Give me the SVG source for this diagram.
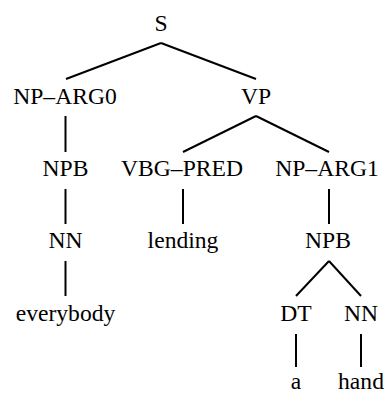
<svg xmlns="http://www.w3.org/2000/svg" width="384" height="394" viewBox="0 0 384 394">
<style>
#edges line{stroke:#000;stroke-width:2;stroke-linecap:butt}
</style>
<rect width="384" height="394" fill="#fff"/>
<g id="edges">
<line x1="161" y1="43" x2="66" y2="79"/>
<line x1="161" y1="43" x2="256" y2="79"/>
<line x1="65.5" y1="116" x2="65.5" y2="152"/>
<line x1="256" y1="116" x2="183" y2="152"/>
<line x1="256" y1="116" x2="329" y2="152"/>
<line x1="65.5" y1="189" x2="65.5" y2="224"/>
<line x1="183" y1="189" x2="183" y2="224"/>
<line x1="329" y1="189" x2="329" y2="224"/>
<line x1="65.5" y1="261" x2="65.5" y2="296"/>
<line x1="329" y1="261" x2="296" y2="296"/>
<line x1="329" y1="261" x2="361" y2="296"/>
<line x1="296" y1="334" x2="296" y2="367"/>
<line x1="361" y1="334" x2="361" y2="367"/>
</g>
<g font-family="Liberation Serif, serif" font-size="23.6" fill="#000" text-anchor="middle">
<g id="n-S"><text x="161" y="31">S</text></g>
<g id="n-NP-ARG0"><text x="65" y="104">NP–ARG0</text></g>
<g id="n-VP"><text x="256" y="104">VP</text></g>
<g id="n-NPB1"><text x="65.5" y="176">NPB</text></g>
<g id="n-VBG-PRED"><text x="182" y="176">VBG–PRED</text></g>
<g id="n-NP-ARG1"><text x="327" y="176">NP–ARG1</text></g>
<g id="n-NN1"><text x="65.5" y="248">NN</text></g>
<g id="n-lending"><text x="183" y="248">lending</text></g>
<g id="n-NPB2"><text x="328" y="248">NPB</text></g>
<g id="n-everybody"><text x="65.5" y="321">everybody</text></g>
<g id="n-DT"><text x="296" y="321">DT</text></g>
<g id="n-NN2"><text x="361" y="321">NN</text></g>
<g id="n-a"><text x="296" y="388.5">a</text></g>
<g id="n-hand"><text x="361" y="388.5">hand</text></g>
</g>
</svg>
